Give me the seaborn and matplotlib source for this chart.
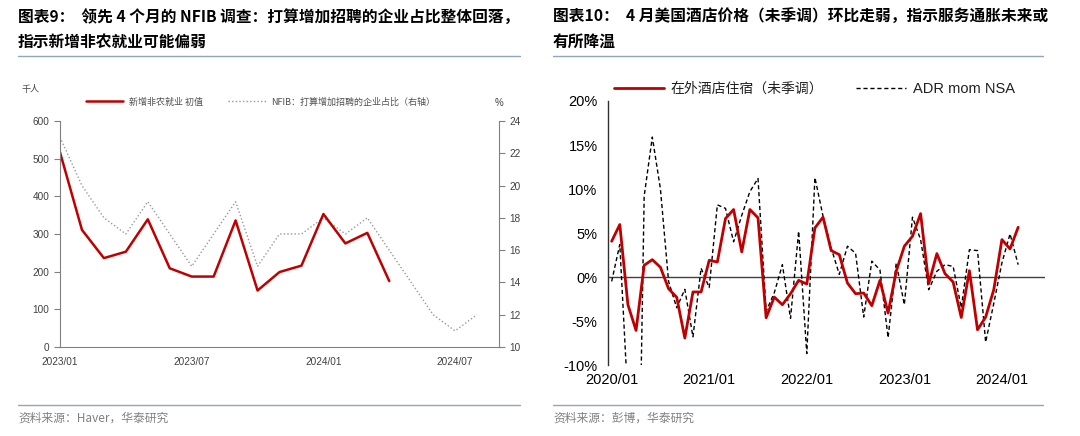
import matplotlib

matplotlib.use("Agg")

import matplotlib.pyplot as plt
import pandas as pd
import seaborn as sns
from matplotlib.lines import Line2D
from matplotlib.ticker import FuncFormatter, MultipleLocator


def month_labels(year, month, n):
    out = []
    for _ in range(n):
        out.append(f"{year}/{month:02d}")
        month += 1
        if month > 12:
            month = 1
            year += 1
    return out


# ---- left panel: NFP initial print vs NFIB hiring plans (4m lead, right axis)
nfp_initial = [517, 311, 236, 253, 339, 209, 187, 187, 336, 150, 199, 216,
               353, 275, 303, 175]
nfib_hiring = [23, 20, 18, 17, 19, 17, 15, 17, 19, 15, 17, 17,
               18, 17, 18, 16, 14, 12, 11, 12]
left_months = month_labels(2023, 1, len(nfib_hiring))
left_ticks = ["2023/01", "2023/07", "2024/01", "2024/07"]

# ---- right panel: CPI lodging away from home (NSA) vs ADR mom, %
hotel_cpi = [4.06, 5.96, -3.15, -6.07, 1.33, 1.97, 1.1, -1.33, -2.3, -6.94,
             -1.7, -1.7, 1.9, 1.7, 6.64, 7.67, 2.85, 7.67, 6.72, -4.63,
             -2.28, -3.15, -1.9, -0.38, -0.8, 5.58, 6.8, 3.0, 2.54, -0.68,
             -1.9, -1.82, -3.26, -0.38, -4.1, 0.65, 3.5, 4.63, 7.2, -0.76,
             2.66, 0.38, -0.57, -4.6, 0.72, -6.0, -4.55, -1.44, 4.25, 3.19,
             5.65]
adr_mom = [-0.5, 3.7, -14.0, -45.0, 9.2, 15.9, 10.0, -0.5, -3.5, -1.4,
           -6.8, 1.0, -1.2, 8.2, 7.8, 4.0, 7.0, 9.7, 11.2, -3.9,
           -1.8, 1.4, -4.7, 5.2, -8.7, 11.3, 6.9, 3.3, 0.3, 3.5,
           2.7, -4.55, 1.8, 0.8, -6.9, 1.6, -3.15, 6.8, 4.25, -1.44,
           0.65, 1.4, 1.2, -3.5, 3.1, 3.0, -7.4, -3.0, 1.6, 4.9,
           1.4]
right_months = month_labels(2020, 1, len(hotel_cpi))
right_ticks = ["2020/01", "2021/01", "2022/01", "2023/01", "2024/01"]

RED = "#C00000"
GRAY = "#808080"
RULE = "#8FA6BC"
CJK = ["Noto Sans CJK SC", "DejaVu Sans"]
LATIN = ["Liberation Sans", "Noto Sans CJK SC"]

sns.set_theme(style="white")
plt.rcParams["font.family"] = CJK
plt.rcParams["axes.unicode_minus"] = False

fig = plt.figure(figsize=(10.8, 4.36), dpi=100)

# ---------------- left chart ----------------
left_df = pd.DataFrame({"month": left_months, "idx": range(len(left_months)),
                        "nfib": nfib_hiring})
nfp_df = left_df.iloc[: len(nfp_initial)].copy()
nfp_df["nfp"] = nfp_initial

ax1 = fig.add_axes([60 / 1080, 1 - 347 / 436, 439 / 1080, 226 / 436])
ax2 = ax1.twinx()
sns.lineplot(data=left_df, x="idx", y="nfib", ax=ax2, color="#999999",
             linewidth=1.0, linestyle=(0, (1, 1.6)))
sns.lineplot(data=nfp_df, x="idx", y="nfp", ax=ax1, color=RED, linewidth=1.8)
ax1.set_zorder(ax2.get_zorder() + 1)
ax1.patch.set_visible(False)

ax1.set_xlim(0, 20)
ax1.set_ylim(0, 600)
ax2.set_ylim(10, 24)
ax1.yaxis.set_major_locator(MultipleLocator(100))
ax2.yaxis.set_major_locator(MultipleLocator(2))
ax1.set_xticks([left_months.index(t) for t in left_ticks])
ax1.set_xticklabels(left_ticks)
for a in (ax1, ax2):
    a.set_xlabel("")
    a.set_ylabel("")
    for s in a.spines.values():
        s.set_color(GRAY)
        s.set_linewidth(0.8)
    a.spines["top"].set_visible(False)
    a.tick_params(colors="#404040", labelsize=7.2, length=4, width=0.8,
                  direction="out")
    a.tick_params(axis="both", color=GRAY)
    for lab in a.get_xticklabels() + a.get_yticklabels():
        lab.set_family(LATIN)
ax1.spines["right"].set_visible(False)
ax2.spines["left"].set_visible(False)
ax2.spines["bottom"].set_visible(False)

fig.text(22 / 1080, 1 - 89 / 436, "千人", fontsize=6.5, color="#404040",
         va="center")
fig.text(495 / 1080, 1 - 103 / 436, "%", fontsize=7, color="#404040",
         va="center", family=LATIN)
h1 = [Line2D([], [], color=RED, linewidth=1.8),
      Line2D([], [], color="#999999", linewidth=1.0, linestyle=(0, (1, 1.6)))]
ax1.legend(h1, ["新增非农就业 初值", "NFIB：打算增加招聘的企业占比（右轴）"],
           loc="center left", bbox_to_anchor=(0.05, 1.085), ncol=2,
           frameon=False, fontsize=6.5, handlelength=4.2, columnspacing=2.8,
           labelcolor="#505050", borderaxespad=0, handletextpad=0.6)

# ---------------- right chart ----------------
right_df = pd.DataFrame({"idx": range(len(right_months)), "hotel": hotel_cpi,
                         "adr": adr_mom})
ax3 = fig.add_axes([608 / 1080, 1 - 365 / 436, 437 / 1080, 264 / 436])
ax3.axhline(0, color="#404040", linewidth=1.0, zorder=1)
sns.lineplot(data=right_df, x="idx", y="adr", ax=ax3, color="black",
             linewidth=1.0, linestyle=(0, (3, 2)))
sns.lineplot(data=right_df, x="idx", y="hotel", ax=ax3, color=RED,
             linewidth=2.0)
ax3.set_xlim(-0.45, 53.3)
ax3.set_ylim(-10, 20)
ax3.yaxis.set_major_locator(MultipleLocator(5))
ax3.yaxis.set_major_formatter(FuncFormatter(lambda v, _: f"{v:.0f}%"))
ax3.set_xticks([right_months.index(t) for t in right_ticks])
ax3.set_xticklabels(right_ticks)
ax3.set_xlabel("")
ax3.set_ylabel("")
for side in ("top", "right", "bottom"):
    ax3.spines[side].set_visible(False)
ax3.spines["left"].set_color("#303030")
ax3.spines["left"].set_linewidth(1.0)
ax3.tick_params(axis="y", colors="black", labelsize=10.5, length=4,
                width=1.0, direction="out", color="#303030")
ax3.tick_params(axis="x", colors="black", labelsize=10.5, length=0, pad=6)
for lab in ax3.get_xticklabels() + ax3.get_yticklabels():
    lab.set_family(LATIN)

h2 = [Line2D([], [], color=RED, linewidth=2.0),
      Line2D([], [], color="black", linewidth=1.0, linestyle=(0, (3, 2)))]
leg = ax3.legend(h2, ["在外酒店住宿（未季调）", "ADR mom NSA"],
                 loc="center left", bbox_to_anchor=(0.0, 1.045), ncol=2,
                 frameon=False, fontsize=10, handlelength=3.6,
                 columnspacing=2.4, labelcolor="#202020", borderaxespad=0,
                 handletextpad=0.5)
leg.get_texts()[1].set_family(LATIN)
leg.get_texts()[1].set_fontsize(10.5)

# ---------------- titles / rules / sources ----------------
titles = [
    (18, ["图表9：  领先 4 个月的 NFIB 调查：打算增加招聘的企业占比整体回落，",
          "指示新增非农就业可能偏弱"], 520, "资料来源：Haver，华泰研究"),
    (553, ["图表10：  4 月美国酒店价格（未季调）环比走弱，指示服务通胀未来或",
           "有所降温"], 1043, "资料来源：彭博，华泰研究"),
]
for x0, lines, x1, src in titles:
    for k, line in enumerate(lines):
        fig.text(x0 / 1080, 1 - (17 + 25 * k) / 436, line, fontsize=11.3,
                 fontweight="bold", color="black", va="center")
    fig.add_artist(Line2D([x0 / 1080, x1 / 1080], [1 - 56 / 436] * 2,
                          color=RULE, linewidth=1.0))
    fig.add_artist(Line2D([x0 / 1080, x1 / 1080], [1 - 405 / 436] * 2,
                          color=RULE, linewidth=1.0))
    fig.text(x0 / 1080, 1 - 418 / 436, src, fontsize=8.5, color=GRAY,
             va="center")

fig.savefig("out.png", dpi=100)
